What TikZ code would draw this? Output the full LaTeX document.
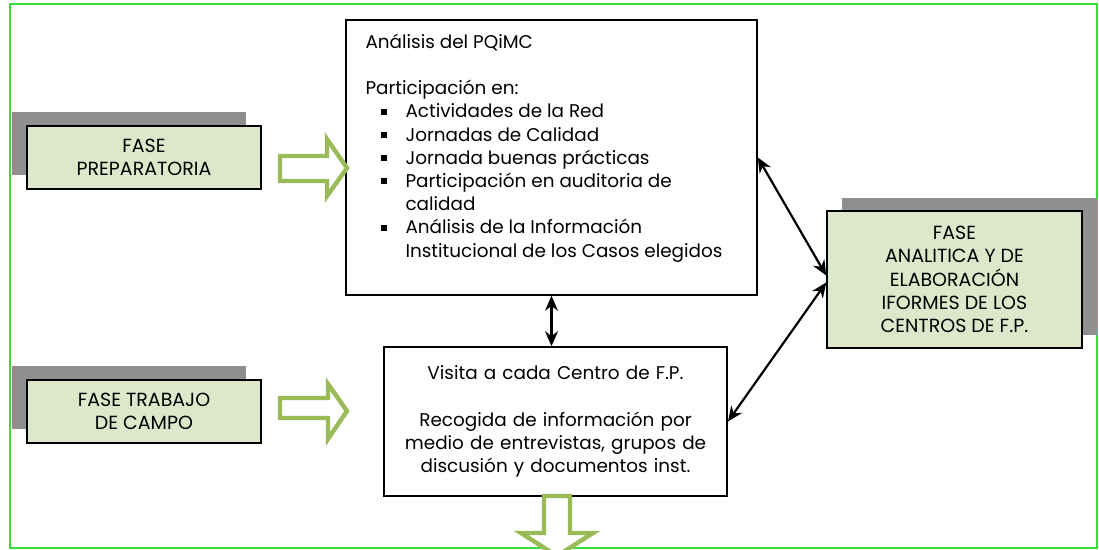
\documentclass[tikz,border=0pt]{standalone}
\usepackage{fontspec}
\setmainfont{Poppins}
\usetikzlibrary{shadows}
\usetikzlibrary{arrows.meta}
\usetikzlibrary{calc}

\definecolor{fasefondo}{HTML}{DDE8CB}
\definecolor{sombra}{HTML}{8F8F8F}
\definecolor{verdeflecha}{HTML}{9BBB59}
\definecolor{marco}{HTML}{3CDC3C}

\newcommand{\vineta}{\hspace*{7.5pt}\makebox[12.5pt][l]{\rule[1.6pt]{3pt}{3pt}}}

\begin{document}
\begin{tikzpicture}[x=0.5pt,y=-0.5pt,
    font=\fontsize{9.5}{11.6}\selectfont,
    fase/.style={draw,line width=0.8pt,fill=fasefondo,align=center,inner sep=2pt},
    caja/.style={draw,line width=0.8pt,fill=white,font=\fontsize{9.2}{11.6}\selectfont},
    flechaverde/.style={draw=verdeflecha,line width=2.2pt,fill=white,line join=miter},
    doble/.style={line width=1.1pt,{Stealth[length=7.5pt,width=6.5pt]}-{Stealth[length=7.5pt,width=6.5pt]}}]

          \useasboundingbox (0,0) rectangle (1099,550); %lienzo
          \draw[marco,line width=0.75pt] (10,4) rectangle (1097,548); %marco verde

          \node[fase,minimum width=117pt,minimum height=31.5pt,
                general shadow={fill=sombra,shadow xshift=-7.5pt,shadow yshift=7pt}]
                (preparatoria) at (144,157.5) {FASE\\PREPARATORIA}; %fase 1
          \node[fase,minimum width=117pt,minimum height=31.5pt,
                general shadow={fill=sombra,shadow xshift=-7.5pt,shadow yshift=7pt}]
                (campo) at (144,411.5) {FASE TRABAJO\\DE CAMPO}; %fase 2
          \node[fase,minimum width=127.5pt,minimum height=68.5pt,
                general shadow={fill=sombra,shadow xshift=7.5pt,shadow yshift=6.5pt}]
                (analitica) at (954.5,279.5) {FASE\\ANALITICA Y DE\\ELABORACIÓN\\IFORMES DE LOS\\CENTROS DE F.P.}; %fase 3

          \node[caja,inner xsep=9.75pt,inner ysep=0pt,minimum width=205.5pt,minimum height=137.5pt]
                (analisis) at (551.5,157.5) {\parbox[c][137.5pt][t]{186pt}{\raggedright
                \vspace*{7pt}Análisis del PQiMC\par
                \vspace{11.6pt}Participación en:\par
                \vineta Actividades de la Red\par
                \vineta Jornadas de Calidad\par
                \vineta Jornada buenas prácticas\par
                \vineta Participación en auditoria de\par
                \hspace*{20pt}calidad\par
                \vineta Análisis de la Información\par
                \hspace*{20pt}Institucional de los Casos elegidos}}; %analisis
          \node[caja,align=center,text width=165pt,minimum width=170.5pt,minimum height=74.5pt]
                (visita) at (555.5,421.5) {Visita a cada Centro de F.P.\\[11.6pt]
                Recogida de información por\\medio de entrevistas, grupos de\\discusión y documentos inst.}; %visita

          \draw[flechaverde] (280,156)--(327,156)--(327,139)--(347,168)--(327,196)--(327,181)--(280,181)--cycle; %flecha 1
          \draw[flechaverde] (280,398)--(328,398)--(328,384)--(347,411)--(328,439)--(328,418)--(280,418)--cycle; %flecha 2
          \draw[flechaverde] (544,496)--(570,496)--(570,533)--(593,533)--(557,556)--(521,533)--(544,533)--cycle; %flecha abajo

          \draw[doble] (analisis.south)--(analisis.south |- visita.north);
          \draw[doble] (analisis.east)--($(analitica.west)+(0,-4)$);
          \draw[doble] (visita.east)--($(analitica.west)+(0,3)$);

        \end{tikzpicture}
\end{document}
